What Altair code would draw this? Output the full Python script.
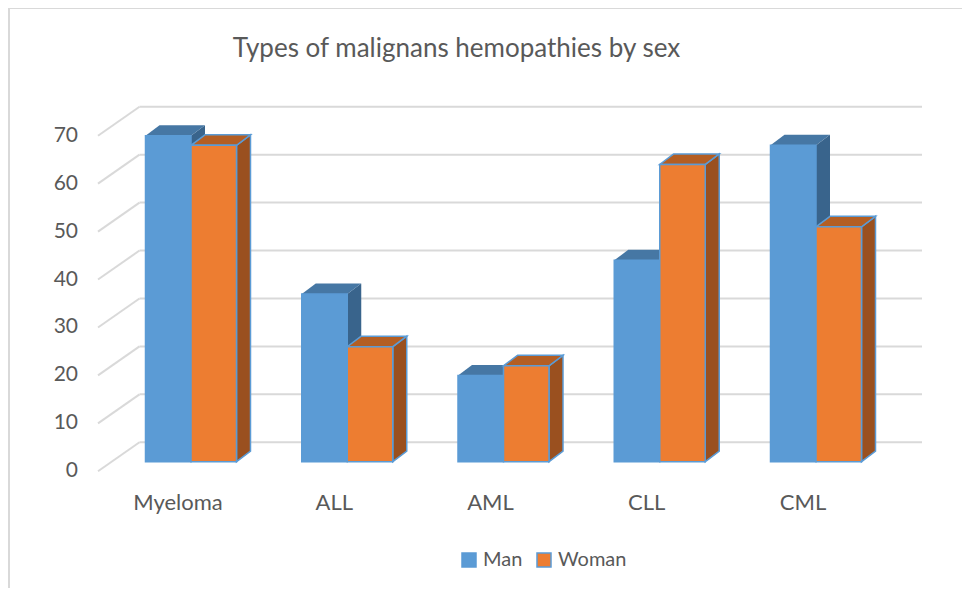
import altair as alt
import pandas as pd

# ---------------- data ----------------
categories = ["Myeloma", "ALL", "AML", "CLL", "CML"]
series = ["Man", "Woman"]
man = [68, 35, 18, 42, 66]
woman = [66, 24, 20, 62, 49]
y_ticks = [0, 10, 20, 30, 40, 50, 60, 70]
title_text = "Types of malignans hemopathies by sex"

# ---------------- styling / geometry ----------------
W, H = 954, 580
PX_CAT = 156.25          # pixels per category
PX_UNIT = 4.794          # pixels per value unit
CX0, VY0 = 191.0, 461.7  # page px of first category centre / bar base
BAR_W = 45.5 / PX_CAT
DX = 14.0 / PX_CAT
DY = 10.5 / PX_UNIT
BACK_SHIFT = (461.7 - 442.3) / PX_UNIT
FRONT_SHIFT = (461.7 - 471.3) / PX_UNIT
WALL_BACK_X = (139.5 - CX0) / PX_CAT
WALL_FRONT_X = (98.0 - CX0) / PX_CAT
WALL_RIGHT_X = (922.0 - CX0) / PX_CAT
LABEL_X = (78.0 - CX0) / PX_CAT
CAT_LABEL_DX = -13.0 / PX_CAT
CAT_LABEL_Y = (VY0 - 503.0) / PX_UNIT

x_dom = [(8 - CX0) / PX_CAT, (8 + W - CX0) / PX_CAT]
y_dom = [(VY0 - (8 + H)) / PX_UNIT, (VY0 - 8) / PX_UNIT]

FRONT = {"Man": "#5B9BD5", "Woman": "#ED7D31"}
TOP = {"Man": "#4677A4", "Woman": "#B45E23"}
SIDE = {"Man": "#39648C", "Woman": "#9A501F"}
EDGE = "#5B9BD5"
GRID = "#D9D9D9"
TXT = "#595959"
FONT = "Lato"

xs = alt.Scale(domain=x_dom, nice=False, zero=False)
ys = alt.Scale(domain=y_dom, nice=False, zero=False)


def X(f):
    return alt.X(f, type="quantitative", scale=xs, axis=None)


def Y(f):
    return alt.Y(f, type="quantitative", scale=ys, axis=None)


# ---------------- build tables ----------------
fronts, sides, tops = [], [], []
for i, cat in enumerate(categories):
    for s, vals in (("Man", man), ("Woman", woman)):
        v = vals[i]
        x0 = i - BAR_W if s == "Man" else i
        x1 = x0 + BAR_W
        bid = f"{cat}-{s}"
        fronts.append({"cat": cat, "sex": s, "x0": x0, "x1": x1, "v": v, "zero": 0})
        sides.append({"bar": bid, "sex": s, "x": x1, "y": v, "y2": 0})
        sides.append({"bar": bid, "sex": s, "x": x1 + DX, "y": v + DY, "y2": DY})
        tops.append({"bar": bid, "sex": s, "y": v, "x": x0, "x2": x1})
        tops.append({"bar": bid, "sex": s, "y": v + DY, "x": x0 + DX, "x2": x1 + DX})

front_df = pd.DataFrame(fronts)
side_df = pd.DataFrame(sides)
top_df = pd.DataFrame(tops)

grid_df = pd.DataFrame({
    "t": y_ticks,
    "yb": [t + BACK_SHIFT for t in y_ticks],
    "yf": [t + FRONT_SHIFT for t in y_ticks],
    "xb": [WALL_BACK_X] * len(y_ticks),
    "xf": [WALL_FRONT_X] * len(y_ticks),
    "xr": [WALL_RIGHT_X] * len(y_ticks),
    "xl": [LABEL_X] * len(y_ticks),
    "label": [str(t) for t in y_ticks],
})

cat_df = pd.DataFrame({
    "cat": categories,
    "x": [i + CAT_LABEL_DX for i in range(len(categories))],
    "y": [CAT_LABEL_Y] * len(categories),
})

# ---------------- layers ----------------
back_grid = alt.Chart(grid_df).mark_rule(color=GRID, strokeWidth=2).encode(
    x=X("xb"), x2="xr", y=Y("yb")
)
side_grid = alt.Chart(grid_df).mark_rule(color=GRID, strokeWidth=2).encode(
    x=X("xf"), x2="xb", y=Y("yf"), y2="yb"
)
tick_labels = alt.Chart(grid_df).mark_text(
    align="right", baseline="middle", font=FONT, fontSize=21, color=TXT
).encode(x=X("xl"), y=Y("yf"), text="label:N")

layers = [back_grid, side_grid, tick_labels]

for s in series:
    kw = dict(stroke=EDGE, strokeWidth=1.5) if s == "Woman" else dict(strokeWidth=0)
    layers.append(
        alt.Chart(side_df[side_df.sex == s]).mark_area(
            color=SIDE[s], opacity=1, orient="vertical", **kw
        ).encode(x=X("x"), y=Y("y"), y2="y2", detail="bar:N")
    )
for s in series:
    kw = dict(stroke=EDGE, strokeWidth=1.5) if s == "Woman" else dict(strokeWidth=0)
    layers.append(
        alt.Chart(top_df[top_df.sex == s]).mark_area(
            color=TOP[s], opacity=1, orient="horizontal", **kw
        ).encode(y=Y("y"), x=X("x"), x2="x2", detail="bar:N")
    )

front_layer = alt.Chart(front_df).mark_rect(strokeWidth=1.5).encode(
    x=X("x0"), x2="x1", y=Y("v"), y2="zero",
    fill=alt.Fill(
        "sex:N",
        scale=alt.Scale(domain=series, range=[FRONT[s] for s in series]),
        legend=alt.Legend(
            title=None, orient="none", direction="horizontal",
            legendX=451, legendY=542, padding=0,
            symbolType="square", symbolSize=196, symbolStrokeWidth=1.5,
            labelFont=FONT, labelFontSize=20, labelColor=TXT,
            labelOffset=4, columnPadding=11,
        ),
    ),
    stroke=alt.Stroke(
        "sex:N",
        scale=alt.Scale(domain=series, range=[EDGE, EDGE]),
        legend=None,
    ),
)
layers.append(front_layer)

cat_labels = alt.Chart(cat_df).mark_text(
    align="center", baseline="middle", font=FONT, fontSize=22, color=TXT
).encode(x=X("x"), y=Y("y"), text="cat:N")
layers.append(cat_labels)

one = pd.DataFrame({"t": [title_text]})
title = alt.Chart(one).mark_text(
    align="center", baseline="alphabetic", font=FONT, fontSize=26,
    fontWeight="normal", color=TXT
).encode(x=alt.value(448.5), y=alt.value(49), text="t:N")
border_top = alt.Chart(one).mark_rule(color=GRID, strokeWidth=2).encode(
    x=alt.value(0), x2=alt.value(W), y=alt.value(0)
)
border_left = alt.Chart(one).mark_rule(color=GRID, strokeWidth=2).encode(
    x=alt.value(1), y=alt.value(0), y2=alt.value(H)
)
layers += [title, border_top, border_left]

chart = alt.layer(*layers).properties(
    width=W, height=H,
    autosize=alt.AutoSizeParams(type="none"),
    padding=0,
).configure_view(stroke=None)

chart.save("out.html", embed_options={"renderer": "svg", "actions": False})
